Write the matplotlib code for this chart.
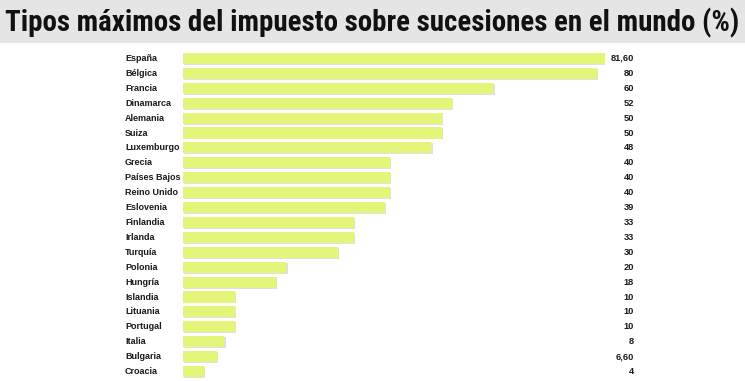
import matplotlib
matplotlib.use("Agg")
import matplotlib.pyplot as plt
from matplotlib import font_manager
from matplotlib.transforms import blended_transform_factory
from matplotlib.patches import Rectangle

paises = ["España", "Bélgica", "Francia", "Dinamarca", "Alemania", "Suiza", "Luxemburgo",
          "Grecia", "Países Bajos", "Reino Unido", "Eslovenia", "Finlandia", "Irlanda",
          "Turquía", "Polonia", "Hungría", "Islandia", "Lituania", "Portugal", "Italia",
          "Bulgaria", "Croacia"]
valores = [81.6, 80, 60, 52, 50, 50, 48, 40, 40, 40, 39, 33, 33, 30, 20, 18, 10, 10, 10, 8, 6.6, 4]
etiquetas = ["81,60", "80", "60", "52", "50", "50", "48", "40", "40", "40", "39", "33", "33",
             "30", "20", "18", "10", "10", "10", "8", "6,60", "4"]

names = {f.name for f in font_manager.fontManager.ttflist}
narrow = None
for cand in ["Liberation Sans Narrow", "DejaVu Sans Condensed", "Roboto Condensed", "Open Sans Condensed"]:
    if cand in names:
        narrow = cand
        break
title_family = narrow if narrow else "Liberation Sans"
label_family = "Liberation Sans" if "Liberation Sans" in names else "DejaVu Sans"

W, H = 745, 381
fig = plt.figure(figsize=(W/100, H/100), dpi=100)
fig.patch.set_facecolor("white")

# title band
fig.patches.append(Rectangle((0, 1 - 43/H), 1, 43/H, transform=fig.transFigure,
                             facecolor="#e5e5e5", edgecolor="none", zorder=0))
title = "Tipos máximos del impuesto sobre sucesiones en el mundo (%)"
fs = 22
t = fig.text(5/W, 1 - 23/H, title, ha="left", va="center", fontsize=fs, fontweight="bold",
             family=title_family, color="#111111")
renderer = fig.canvas.get_renderer()
wpx = t.get_window_extent(renderer).width
target = 735
if wpx > target:
    t.set_fontsize(fs * target / wpx)

n = len(paises)
top_px, bot_px = 51, 379
ax = fig.add_axes([183/W, 1 - bot_px/H, (605-183)/W, (bot_px-top_px)/H])
ax.set_xlim(0, 81.6)
ax.set_ylim(n - 0.5, -0.5)
ax.axis("off")

ys = list(range(n))
ax.barh([y + 0.06 for y in ys], valores, height=0.74, left=0.25, color="#e0e0e0", zorder=1)
ax.barh(ys, valores, height=0.74, color="#e4f57a", zorder=2)

tr = blended_transform_factory(fig.transFigure, ax.transData)
for y, p, e in zip(ys, paises, etiquetas):
    fig.text(125/W, y, p, transform=tr, ha="left", va="center", fontsize=6.5,
             fontweight="bold", family=label_family, color="#1a1a1a")
    fig.text(634/W, y, e, transform=tr, ha="right", va="center", fontsize=6.7,
             fontweight="bold", family=label_family, color="#1a1a1a")

fig.savefig("out.png", dpi=100, facecolor="white")
